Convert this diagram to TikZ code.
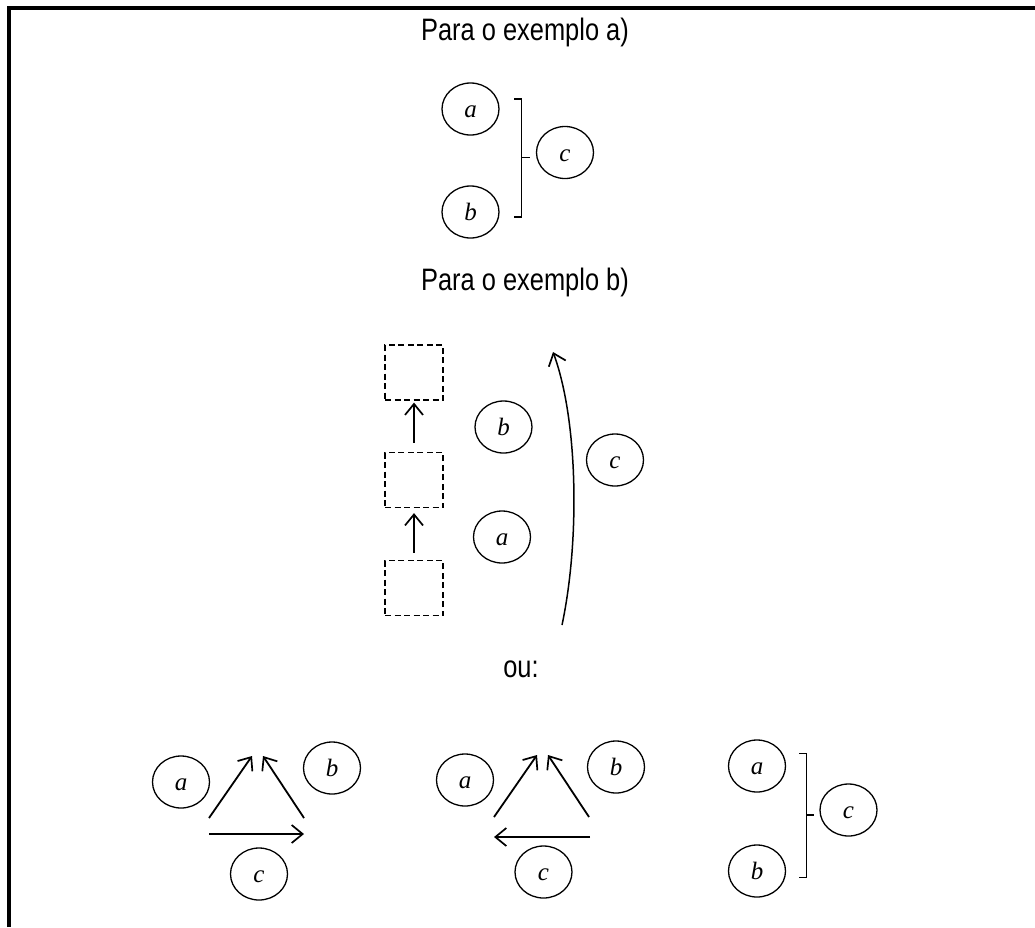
\documentclass[tikz,border=0pt]{standalone}
\usepackage{fontspec}
\usetikzlibrary{shapes.geometric,arrows.meta}
\newfontfamily\titlefont[FakeStretch=0.82]{Liberation Sans}
\newfontfamily\varfont{Liberation Serif}
\begin{document}
\begin{tikzpicture}[x=1pt,y=-1pt,
  var/.style={ellipse, draw, line width=1.3pt, minimum width=57pt, minimum height=52pt,
    inner sep=0pt, text height=17pt, text depth=0pt, font=\varfont\itshape\fontsize{25}{25}\selectfont},
  heading/.style={anchor=base, inner sep=0pt, font=\titlefont\fontsize{31}{31}\selectfont},
  slot/.style={draw, dash pattern=on 6pt off 3.5pt, line width=1.2pt, minimum width=58pt, minimum height=55pt, inner sep=0pt},
  brace/.style={line width=1.5pt},
  link/.style={line width=1.8pt, -{Straight Barb[length=11pt,width=18pt,line width=1.7pt]}}]
\useasboundingbox (0,0) rectangle (1035,927);

% frame: top and left sides only
\draw[line width=3.7pt] (9,927) -- (9,8) -- (1035,8);

% ---- example a)
\node[heading] (ta) at (525,40) {Para o exemplo a)};
\node[var] (a1) at (470.5,109) {a};
\node[var] (b1) at (470.5,212) {b};
\node[var] (c1) at (565,152.5) {c};
\coordinate (br1t) at (514,99);
\coordinate (br1b) at (514,217);
\coordinate (br1m) at (530,157.5);
\draw[brace] (br1t) -- (521.7,99) -- (521.7,217) -- (br1b);
\draw[brace] (521.7,157.5) -- (br1m);

% ---- example b)
\node[heading] (tb) at (525,290) {Para o exemplo b)};
\node[slot] (s1) at (414,372.5) {};
\node[slot] (s2) at (414,480) {};
\node[slot] (s3) at (414,588) {};
\draw[link, shorten <=7pt, shorten >=5pt] (s3) -- (s2);
\draw[link, shorten <=9pt, shorten >=2pt] (s2) -- (s1);
\node[var] (b2) at (503.5,427) {b};
\node[var] (a2) at (502,537) {a};
\node[var] (c2) at (615,460) {c};
\coordinate (arcS) at (562,625);
\coordinate (arcE) at (553,352);
\draw[link, line width=1.5pt] (arcS) .. controls (580,540) and (578,420) .. (arcE);

\node[heading] (tou) at (521,677) {ou:};

% ---- first triangle
\node[var] (a3) at (181,782) {a};
\node[var] (b3) at (332,768) {b};
\node[var] (c3) at (259,874) {c};
\coordinate (t1l) at (209,818);
\coordinate (t1r) at (304,818);
\coordinate (t1p) at (252,756);
\coordinate (t1q) at (263,756);
\coordinate (t1bl) at (209,834);
\coordinate (t1br) at (304,834);
\draw[link] (t1l) -- (t1p);
\draw[link] (t1r) -- (t1q);
\draw[link] (t1bl) -- (t1br);

% ---- second triangle
\node[var] (a4) at (465,780) {a};
\node[var] (b4) at (616,767) {b};
\node[var] (c4) at (543.5,872) {c};
\coordinate (t2l) at (494,817);
\coordinate (t2r) at (589,817);
\coordinate (t2p) at (537,755);
\coordinate (t2q) at (548,755);
\coordinate (t2bl) at (494,837);
\coordinate (t2br) at (590,837);
\draw[link] (t2l) -- (t2p);
\draw[link] (t2r) -- (t2q);
\draw[link] (t2br) -- (t2bl);

% ---- bracket again
\node[var] (a5) at (757,766) {a};
\node[var] (b5) at (757,871) {b};
\node[var] (c5) at (848.5,810) {c};
\coordinate (br2t) at (799,753.5);
\coordinate (br2b) at (799,877.5);
\coordinate (br2m) at (814,815);
\draw[brace] (br2t) -- (806.7,753.5) -- (806.7,877.5) -- (br2b);
\draw[brace] (806.7,815) -- (br2m);
\end{tikzpicture}
\end{document}
